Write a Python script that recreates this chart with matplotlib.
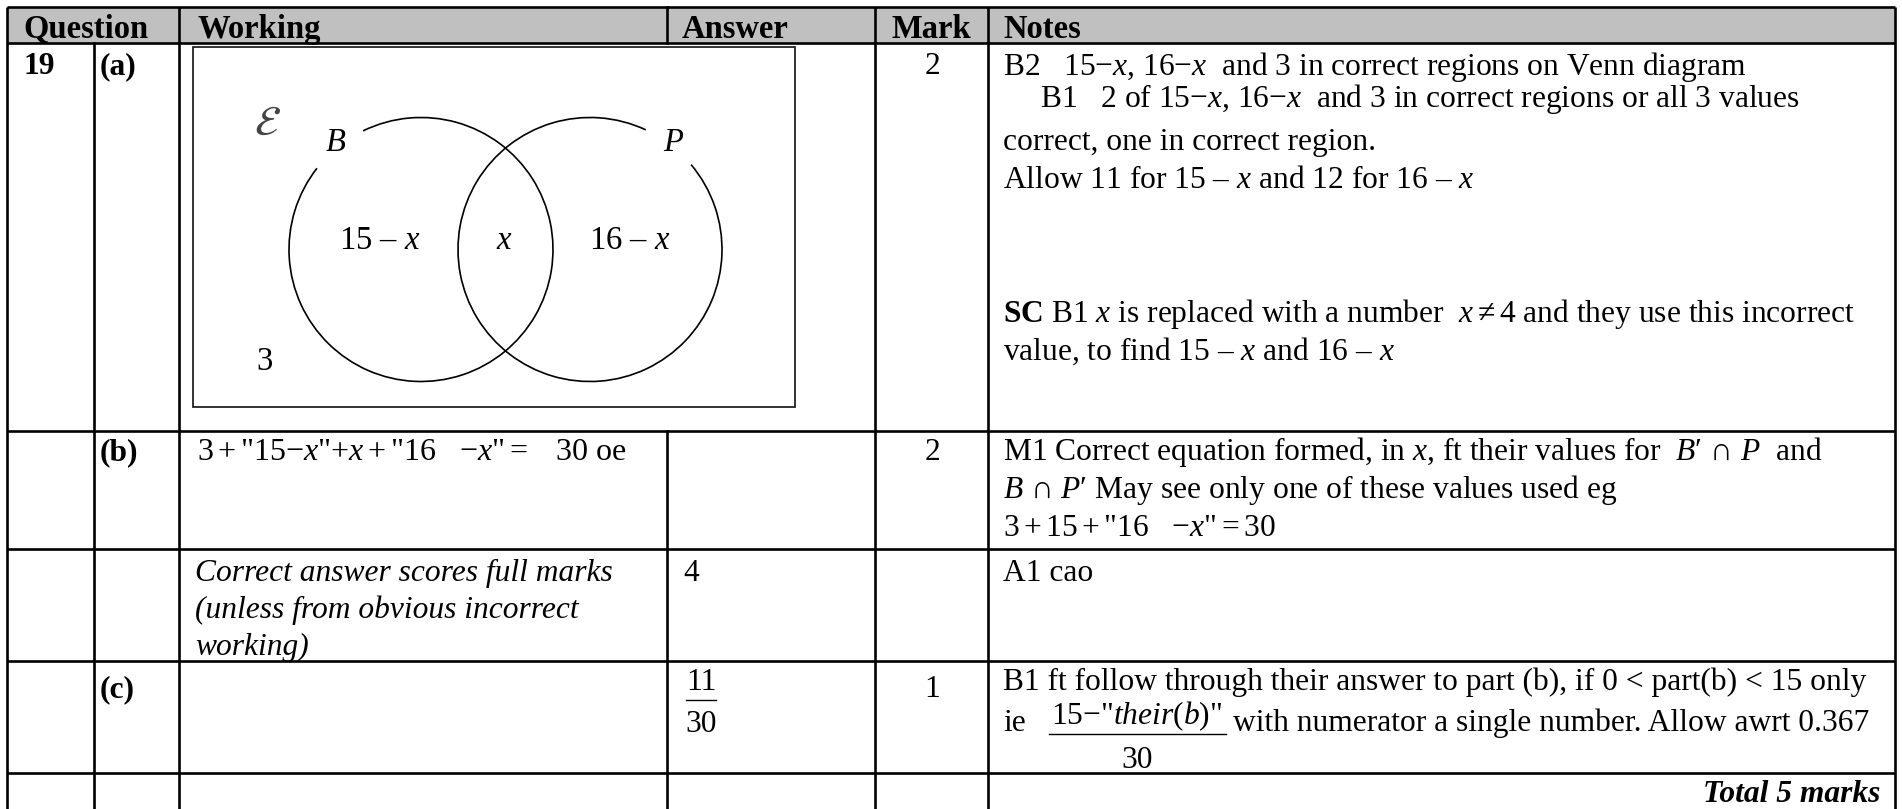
import matplotlib
matplotlib.use("Agg")
import matplotlib.pyplot as plt
from matplotlib.patches import Rectangle, Arc

plt.rcParams['font.family'] = ['Liberation Serif', 'DejaVu Serif']
plt.rcParams['mathtext.fontset'] = 'custom'
plt.rcParams['mathtext.rm'] = 'Liberation Serif'
plt.rcParams['mathtext.it'] = 'Liberation Serif:italic'
plt.rcParams['mathtext.bf'] = 'Liberation Serif:bold'

W, H = 1902, 809

# table text
headers = ["Question", "Working", "Answer", "Mark", "Notes"]
question_no = "19"
parts = ["(a)", "(b)", "(c)"]
marks = ["2", "2", "1"]
venn_labels = {"B": r"$B$", "P": r"$P$", "only_b": r"15 – $x$", "both": r"$x$",
               "only_p": r"16 – $x$", "outside": "3"}
notes_a = [
    r"B2   15$-x$, 16$-x$  and 3 in correct regions on Venn diagram",
    r"B1   2 of 15$-x$, 16$-x$  and 3 in correct regions or all 3 values",
    "correct, one in correct region.",
    r"Allow 11 for 15 – $x$ and 12 for 16 – $x$",
    r"$\mathbf{SC}$ B1 $x$ is replaced with a number  $x \neq 4$ and they use this incorrect",
    r"value, to find 15 – $x$ and 16 – $x$",
]
working_b = r'$3+$"15$-x$"$+x+$"16   $-x$"$=$   30 oe'
notes_b = [
    r"M1 Correct equation formed, in $x$, ft their values for  $B$′ ∩ $P$  and",
    r"$B$ ∩ $P$′ May see only one of these values used eg",
    r'$3+15+$"16   $-x$"$=30$',
]
working_cao = ["Correct answer scores full marks", "(unless from obvious incorrect", "working)"]
answer_b = "4"
notes_cao = "A1 cao"
answer_c = ("11", "30")
notes_c1 = "B1 ft follow through their answer to part (b), if 0 < part(b) < 15 only"
notes_c_frac = (r'15$-$"$their(b)$"', "30")
notes_c2 = "with numerator a single number. Allow awrt 0.367"
total = "Total 5 marks"

FS = 22.7

fig = plt.figure(figsize=(W / 100, H / 100), dpi=100)
ax = fig.add_axes([0, 0, 1, 1])
ax.set_xlim(0, W)
ax.set_ylim(H, 0)
ax.axis('off')

# header band
ax.add_patch(Rectangle((7, 7), 1888, 36, facecolor='#c0c0c0', edgecolor='none'))

lw = 1.9
for y in [7, 43, 431, 549, 661, 773]:
    ax.plot([7, 1895], [y, y], color='black', lw=lw, solid_capstyle='butt')
for x in [7, 179, 875, 988, 1895]:
    ax.plot([x, x], [7, H], color='black', lw=lw, solid_capstyle='butt')
ax.plot([94, 94], [43, H], color='black', lw=lw)
ax.plot([667, 667], [7, 43], color='black', lw=lw)
ax.plot([667, 667], [431, H], color='black', lw=lw)


def put(x, y, s, size=FS, **kw):
    kw.setdefault('va', 'baseline')
    ax.text(x, y, s, fontsize=size, color='black', **kw)


# headers
for x, h in zip([23, 197, 682, 892, 1003], headers):
    put(x, 38, h, size=23.5, fontweight='bold')

put(23, 74, question_no, fontweight='bold')
for y, p in zip([74, 460, 697], parts):
    put(100, y, p, fontweight='bold')
for y, m in zip([74, 460, 697], marks):
    put(932, y, m, ha='center')

# venn diagram box
ax.add_patch(Rectangle((193, 47), 602, 360, fill=False, edgecolor='#222222', lw=1.3))
r = 132
ax.add_patch(Arc((421, 249.5), 2 * r, 2 * r, theta1=-116, theta2=218, color='black', lw=1.2))
ax.add_patch(Arc((590, 249.5), 2 * r, 2 * r, theta1=-40, theta2=295, color='black', lw=1.2))
ax.text(267, 125, r'$\mathcal{E}$', fontsize=30, color='#444444', ha='center', va='center',
        math_fontfamily='stix')
vs = 23.5
put(336, 151, venn_labels["B"], size=vs, ha='center')
put(674, 151, venn_labels["P"], size=vs, ha='center')
put(380, 249, venn_labels["only_b"], size=vs, ha='center')
put(504, 249, venn_labels["both"], size=vs, ha='center')
put(630, 249, venn_labels["only_p"], size=vs, ha='center')
put(264, 370, venn_labels["outside"], size=vs, ha='center')

# notes (a)
for (x, y), s in zip([(1003, 75), (1040, 107), (1003, 150), (1003, 188), (1003, 322), (1003, 360)], notes_a):
    put(x, y, s)

# row (b)
put(197, 460, working_b, size=23)
for y, s in zip([460, 498, 536], notes_b):
    put(1003, y, s)

# correct answer row
for y, s in zip([581, 618, 655], working_cao):
    put(195, y, s, fontstyle='italic')
put(683, 581, answer_b)
put(1003, 581, notes_cao)

# row (c)
put(701, 690, answer_c[0], ha='center')
ax.plot([686, 716], [700, 700], color='black', lw=1.0)
put(701, 732, answer_c[1], ha='center')
put(1003, 690, notes_c1)
put(1003, 731, "ie")
put(1137, 724, notes_c_frac[0], ha='center')
ax.plot([1049, 1226], [734, 734], color='black', lw=1.0)
put(1137, 768, notes_c_frac[1], ha='center')
put(1233, 731, notes_c2)

put(1880, 802, total, ha='right', fontweight='bold', fontstyle='italic')

fig.savefig("out.png", dpi=100)
